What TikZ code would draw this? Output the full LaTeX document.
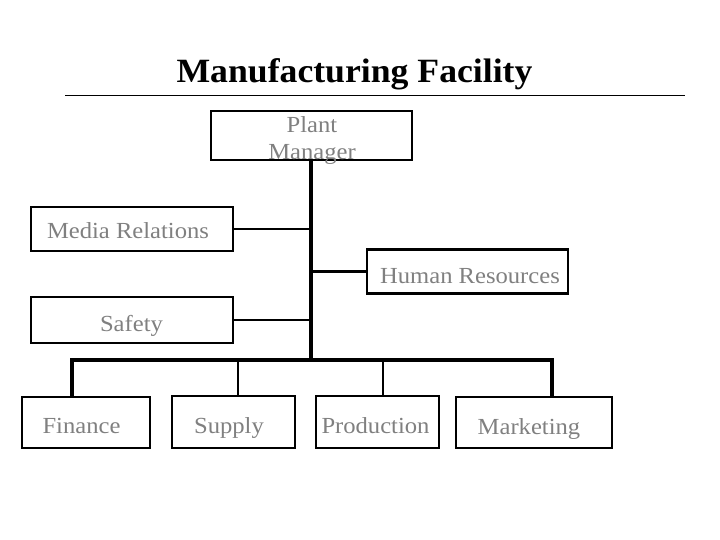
\documentclass[tikz,border=0pt]{standalone}
\usepackage{fontspec}
\setmainfont{Liberation Serif}
\newfontfamily\boxfont[FakeStretch=1.07]{Liberation Serif}
\newfontfamily\titlefont[FakeStretch=1.05]{Liberation Serif}
\definecolor{txtgray}{HTML}{808080}
\begin{document}
\begin{tikzpicture}[x=1pt,y=-1pt,
  box/.style={draw=black,line width=2.5pt,inner sep=0pt,fill=white},
  txt/.style={text=txtgray,font=\boxfont\fontsize{23}{27}\selectfont,inner sep=0pt,anchor=base},
  conn/.style={draw=black,line width=2.5pt},
  trunkline/.style={draw=black,line width=3.5pt},
  thickdrop/.style={draw=black,line width=4.5pt}]
\useasboundingbox (0,0) rectangle (720,540);
\fill[white] (0,0) rectangle (720,540);
% title
\node[inner sep=0pt,anchor=base,font=\titlefont\bfseries\fontsize{34}{40}\selectfont] (title) at (354.5,83) {Manufacturing Facility};
\coordinate (ruleL) at (65,96);
\coordinate (ruleR) at (685,96);
\draw[line width=1pt] (ruleL) -- (ruleR);
% boxes
\node[box,minimum width=201pt,minimum height=49pt] (pm) at (311.5,135.5) {};
\node[box,minimum width=202pt,minimum height=44pt] (mr) at (132,229) {};
\node[box,minimum width=201pt,minimum height=44pt] (hr) at (467.5,271.5) {};
\node[box,minimum width=202pt,minimum height=46pt] (sf) at (132,320) {};
\node[box,minimum width=128pt,minimum height=51pt] (fin) at (86,422.5) {};
\node[box,minimum width=123pt,minimum height=52pt] (sup) at (233.5,422) {};
\node[box,minimum width=123pt,minimum height=52pt] (pro) at (377.5,422) {};
\node[box,minimum width=156pt,minimum height=51pt] (mkt) at (534,422.5) {};
% texts
\node[txt] (pmA) at (312,133) {Plant};
\node[txt] (pmB) at (312,160) {Manager};
\node[txt] (mrT) at (128,239) {Media Relations};
\node[txt] (hrT) at (470,283) {Human Resources};
\node[txt] (sfT) at (131.5,331) {Safety};
\node[txt] (finT) at (81.5,433) {Finance};
\node[txt] (supT) at (229,433) {Supply};
\node[txt] (proT) at (375.5,433) {Production};
\node[txt] (mktT) at (529,434) {Marketing};
% connectors
\coordinate (trunk) at (311,360);
\coordinate (busL) at (72,360);
\coordinate (busR) at (552,360);
\coordinate (dSup) at (238,360);
\coordinate (dPro) at (383,360);
\draw[trunkline] (pm.south -| trunk) -- (trunk);
\draw[conn] (mr.east) -- (mr.east -| trunk);
\draw[conn] (hr.west) -- (hr.west -| trunk);
\draw[conn] (sf.east) -- (sf.east -| trunk);
\draw[trunkline] ([xshift=-2pt]busL) -- ([xshift=2pt]busR);
\draw[thickdrop] (busL) -- (fin.north -| busL);
\draw[conn] (dSup) -- (sup.north -| dSup);
\draw[conn] (dPro) -- (pro.north -| dPro);
\draw[thickdrop] (busR) -- (mkt.north -| busR);
\end{tikzpicture}
\end{document}
